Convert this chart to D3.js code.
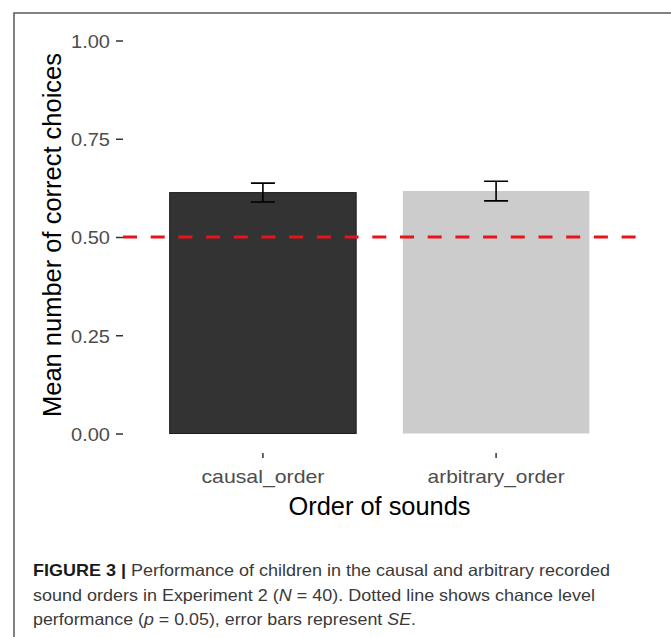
<!DOCTYPE html>
<html>
<head>
<meta charset="utf-8">
<script src="https://cdn.jsdelivr.net/npm/d3@7"></script>
<style>
	body { margin: 0; background: #fff; }
	svg { display: block; font-family: "Liberation Sans", Arial, sans-serif; }
</style>
</head>
<body>
<svg id="chart" width="671" height="637"></svg>
<script>
var categories = ['causal_order', 'arbitrary_order'];
var means = [0.613, 0.617];
var se = [0.024, 0.025];
var fills = ['#333333', '#cccccc'];
var yTicks = [0, 0.25, 0.5, 0.75, 1];
var chance = 0.5;

var yTitle = 'Mean number of correct choices';
var xTitle = 'Order of sounds';
var caption = [
	[{t: 'FIGURE 3 | ', b: true}, {t: 'Performance of children in the causal and arbitrary recorded'}],
	[{t: 'sound orders in Experiment 2 ('}, {t: 'N', i: true}, {t: ' = 40). Dotted line shows chance level'}],
	[{t: 'performance ('}, {t: 'p', i: true}, {t: ' = 0.05), error bars represent '}, {t: 'SE', i: true}, {t: '.'}]
];

var panel = {left: 123, right: 636, top: 21, bottom: 453};

var svg = d3.select('#chart');

// frame of the figure box (only left and top edges are in view)
svg.append('path')
	.attr('d', 'M14,637 L14,13 L671,13')
	.attr('fill', 'none')
	.attr('stroke', '#5a5a5a')
	.attr('stroke-width', 1.5);

var x = d3.scaleBand()
	.domain(categories)
	.range([panel.left, panel.right])
	.paddingInner(0.2)
	.paddingOuter(0.2);

var y = d3.scaleLinear()
	.domain([0, 1])
	.range([433.5, 40.5]);

// bars
svg.append('g').selectAll('rect')
	.data(categories)
	.enter()
		.append('rect')
			.attr('x', function(d) { return x(d); })
			.attr('width', x.bandwidth())
			.attr('y', function(d, i) { return y(means[i]); })
			.attr('height', function(d, i) { return y(0) - y(means[i]); })
			.attr('fill', function(d, i) { return fills[i]; })
			.attr('stroke', function(d, i) { return i === 0 ? '#1e1e1e' : 'none'; })
			.attr('stroke-width', 1);

// chance line
svg.append('line')
	.attr('x1', panel.left)
	.attr('x2', panel.right)
	.attr('y1', y(chance))
	.attr('y2', y(chance))
	.attr('stroke', '#e8141b')
	.attr('stroke-width', 3)
	.attr('stroke-dasharray', '14,13.7');

// error bars
var capW = 12;
var eb = svg.append('g').attr('stroke', '#000').attr('stroke-width', 1.6).attr('fill', 'none');
categories.forEach(function(c, i) {
	var cx = x(c) + x.bandwidth() / 2;
	var lo = y(means[i] - se[i]);
	var hi = y(means[i] + se[i]);
	eb.append('path')
		.attr('d', 'M' + (cx - capW) + ',' + hi + 'H' + (cx + capW) +
			'M' + cx + ',' + hi + 'V' + lo +
			'M' + (cx - capW) + ',' + lo + 'H' + (cx + capW));
});

// y axis
var yAxis = svg.append('g')
	.attr('transform', 'translate(' + panel.left + ',0)')
	.call(d3.axisLeft(y).tickValues(yTicks).tickSize(7).tickPadding(6).tickFormat(d3.format('.2f')));
yAxis.select('.domain').remove();
yAxis.selectAll('.tick line').attr('stroke', '#333').attr('stroke-width', 1.5);
yAxis.selectAll('.tick text')
	.attr('fill', '#4d4d4d')
	.attr('font-size', 18)
	.attr('font-family', '"Liberation Sans", Arial, sans-serif')
	.attr('textLength', 39)
	.attr('lengthAdjust', 'spacingAndGlyphs')
	.attr('dy', '0.38em');

// x axis
var xAxis = svg.append('g')
	.attr('transform', 'translate(0,' + panel.bottom + ')')
	.call(d3.axisBottom(x).tickSize(5).tickPadding(12));
xAxis.select('.domain').remove();
xAxis.selectAll('.tick line').attr('stroke', '#333').attr('stroke-width', 1.5);
xAxis.selectAll('.tick text')
	.attr('fill', '#4d4d4d')
	.attr('font-size', 19)
	.attr('font-family', '"Liberation Sans", Arial, sans-serif')
	.attr('textLength', function(d) { return d === 'causal_order' ? 123 : 137; })
	.attr('lengthAdjust', 'spacingAndGlyphs');

// axis titles
svg.append('text')
	.attr('x', (panel.left + panel.right) / 2)
	.attr('y', 515)
	.attr('text-anchor', 'middle')
	.attr('font-size', 25)
	.attr('fill', '#000')
	.attr('textLength', 182)
	.attr('lengthAdjust', 'spacingAndGlyphs')
	.text(xTitle);

svg.append('text')
	.attr('transform', 'translate(61,235) rotate(-90)')
	.attr('text-anchor', 'middle')
	.attr('font-size', 25)
	.attr('fill', '#000')
	.attr('textLength', 364)
	.attr('lengthAdjust', 'spacingAndGlyphs')
	.text(yTitle);

// caption
var capWidths = [577, 562, 383];
var capY = [576, 601, 625];
caption.forEach(function(line, k) {
	var t = svg.append('text')
		.attr('x', 33)
		.attr('y', capY[k])
		.attr('font-size', 16.5)
		.attr('fill', '#3a3a3a')
		.attr('textLength', capWidths[k])
		.attr('lengthAdjust', 'spacingAndGlyphs');
	line.forEach(function(p) {
		t.append('tspan')
			.attr('font-weight', p.b ? 'bold' : null)
			.attr('font-style', p.i ? 'italic' : null)
			.attr('fill', p.b ? '#1a1a1a' : null)
			.text(p.t);
	});
});
</script>
</body>
</html>
